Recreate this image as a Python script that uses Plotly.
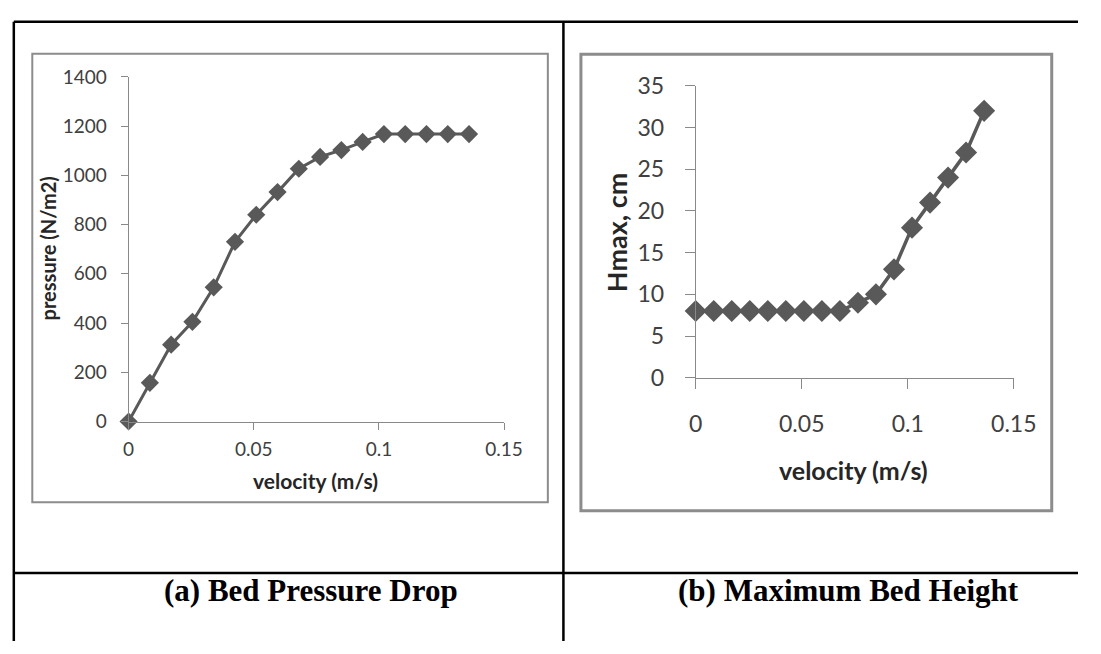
import plotly.graph_objects as go

W, H = 1101, 654

# ---- data ----
velocity = [0, 0.0085, 0.017, 0.0255, 0.034, 0.0425, 0.051, 0.0595, 0.068,
            0.0765, 0.085, 0.0935, 0.102, 0.1105, 0.119, 0.1275, 0.136]
pressure = [0, 157, 312, 405, 545, 730, 840, 932, 1027, 1075, 1103, 1136,
            1168, 1168, 1168, 1168, 1168]
hmax = [8, 8, 8, 8, 8, 8, 8, 8, 8, 9, 10, 13, 18, 21, 24, 27, 32]

x_ticks = [0, 0.05, 0.1, 0.15]
x_tick_labels = ["0", "0.05", "0.1", "0.15"]
pa_ticks = [0, 200, 400, 600, 800, 1000, 1200, 1400]
hb_ticks = [0, 5, 10, 15, 20, 25, 30, 35]

caption_a = "(a) Bed Pressure Drop"
caption_b = "(b) Maximum Bed Height"
xtitle = "velocity (m/s)"
ytitle_a = "pressure (N/m2)"
ytitle_b = "Hmax, cm"


def fx(x):
    return x / W


def fy(y):
    return 1 - y / H


MARK = "#595959"
AXC = "#898989"
TICKC = "#404040"
TICKFONT = "Lato"

fig = go.Figure()

fig.add_trace(go.Scatter(
    x=velocity, y=pressure, mode="lines+markers", xaxis="x", yaxis="y",
    line=dict(color=MARK, width=3),
    marker=dict(symbol="diamond", size=14, color=MARK),
    cliponaxis=False, showlegend=False))

fig.add_trace(go.Scatter(
    x=velocity, y=hmax, mode="lines+markers", xaxis="x2", yaxis="y2",
    line=dict(color=MARK, width=3.5),
    marker=dict(symbol="diamond", size=17, color=MARK),
    cliponaxis=False, showlegend=False))

common_axis = dict(showgrid=False, zeroline=False, showline=True,
                   linecolor=AXC, linewidth=1, ticks="outside",
                   tickcolor=AXC, tickwidth=1)

fig.update_layout(
    width=W, height=H,
    margin=dict(l=0, r=0, t=0, b=0),
    paper_bgcolor="white", plot_bgcolor="white",
    xaxis=dict(domain=[fx(125), fx(511)], range=[0, 0.15],
               tickvals=x_ticks, ticktext=x_tick_labels, ticklen=7,
               ticklabelstandoff=4,
               tickfont=dict(family=TICKFONT, size=19, color=TICKC),
               anchor="y", **common_axis),
    yaxis=dict(domain=[fy(424.7), fy(64.7)], range=[0, 1400],
               tickvals=pa_ticks, ticklen=7, ticklabelstandoff=10,
               tickfont=dict(family=TICKFONT, size=19, color=TICKC),
               anchor="x", **common_axis),
    xaxis2=dict(domain=[fx(708), fx(1035)], range=[0, 0.15],
                tickvals=x_ticks, ticktext=x_tick_labels, ticklen=10,
                ticklabelstandoff=16,
                tickfont=dict(family=TICKFONT, size=23, color=TICKC),
                anchor="y2", **common_axis),
    yaxis2=dict(domain=[fy(379), fy(74)], range=[0, 35],
                tickvals=hb_ticks, ticklen=10, ticklabelstandoff=16,
                tickfont=dict(family=TICKFONT, size=23, color=TICKC),
                anchor="x2", **common_axis),
)

shapes = []
# table lines
BL = dict(color="black", width=2.5)
shapes.append(dict(type="line", xref="paper", yref="paper",
                   x0=fx(7), x1=1, y0=fy(7), y1=fy(7), line=BL))
shapes.append(dict(type="line", xref="paper", yref="paper",
                   x0=fx(7), x1=fx(7), y0=fy(7), y1=0, line=BL))
shapes.append(dict(type="line", xref="paper", yref="paper",
                   x0=fx(572), x1=fx(572), y0=fy(7), y1=0, line=BL))
shapes.append(dict(type="line", xref="paper", yref="paper",
                   x0=fx(7), x1=1, y0=fy(583), y1=fy(583), line=BL))
# chart frames
shapes.append(dict(type="rect", xref="paper", yref="paper",
                   x0=fx(26), x1=fx(556), y0=fy(509), y1=fy(40.5),
                   line=dict(color="#8c8c8c", width=2), layer="below"))
shapes.append(dict(type="rect", xref="paper", yref="paper",
                   x0=fx(590), x1=fx(1074), y0=fy(518), y1=fy(41),
                   line=dict(color="#8c8c8c", width=3), layer="below"))
fig.update_layout(shapes=shapes)

TITLEC = "#262626"
ann = [
    dict(text="<b>%s</b>" % xtitle, x=fx(317), y=fy(486), xref="paper", yref="paper",
         showarrow=False, xanchor="center", yanchor="middle",
         font=dict(family=TICKFONT, size=21, color=TITLEC)),
    dict(text="<b>%s</b>" % ytitle_a, x=fx(42), y=fy(244), xref="paper", yref="paper",
         showarrow=False, xanchor="center", yanchor="middle", textangle=-90,
         font=dict(family=TICKFONT, size=20, color=TITLEC)),
    dict(text="<b>%s</b>" % xtitle, x=fx(870), y=fy(475), xref="paper", yref="paper",
         showarrow=False, xanchor="center", yanchor="middle",
         font=dict(family=TICKFONT, size=25, color=TITLEC)),
    dict(text="<b>%s</b>" % ytitle_b, x=fx(626), y=fy(227), xref="paper", yref="paper",
         showarrow=False, xanchor="center", yanchor="middle", textangle=-90,
         font=dict(family=TICKFONT, size=27, color=TITLEC)),
    dict(text="<b>%s</b>" % caption_a, x=fx(313), y=fy(601), xref="paper", yref="paper",
         showarrow=False, xanchor="center", yanchor="middle",
         font=dict(family="Liberation Serif", size=31, color="black")),
    dict(text="<b>%s</b>" % caption_b, x=fx(865), y=fy(601), xref="paper", yref="paper",
         showarrow=False, xanchor="center", yanchor="middle",
         font=dict(family="Liberation Serif", size=31, color="black")),
]
fig.update_layout(annotations=ann)

fig.write_html("out.html",
               post_script="document.body.style.margin='0';"
                           "document.body.style.overflow='hidden';")
